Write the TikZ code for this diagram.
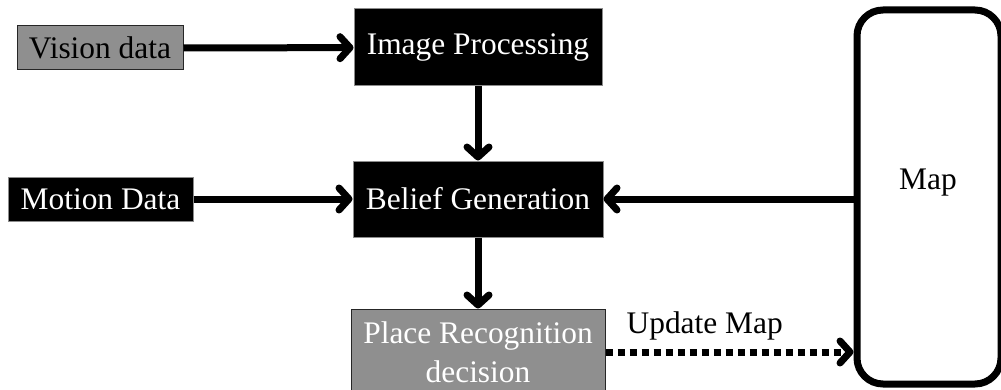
\documentclass[tikz,border=0pt]{standalone}
\usepackage{fontspec}
\setmainfont{Liberation Serif}
\usetikzlibrary{arrows.meta}
\definecolor{boxgrey}{HTML}{8F8F8F}

\begin{document}
\begin{tikzpicture}[x=0.5pt,y=-0.5pt,
		every node/.style={font=\fontsize{15.7}{19.5}\selectfont,inner sep=0pt},
		darkbox/.style={fill=black,draw=black!45,line width=0.5pt,text=white},
		greybox/.style={fill=boxgrey,draw=black!85,line width=0.5pt},
		flow/.style={line width=3.5pt,-{Straight Barb[length=5pt,width=11pt,round]}}]
	\useasboundingbox (0,0) rectangle (1001,390);
	
	\node[greybox,minimum width=83pt,minimum height=22pt] (vision) at (100,48) {Vision data};
	\node[darkbox,minimum width=124pt,minimum height=38.5pt] (improc) at (478,47.5) {Image Processing};
	\node[darkbox,minimum width=92.5pt,minimum height=22pt] (motion) at (100.5,199) {Motion Data};
	\node[darkbox,minimum width=125pt,minimum height=38pt] (belief) at (478,199) {Belief Generation};
	\node[greybox,text=white,align=center,minimum width=127pt,minimum height=43pt] (place) at (478,352) {Place Recognition\\decision};
	\node[draw,line width=3.5pt,rounded corners=13pt,minimum width=72pt,minimum height=187pt,
		label={[xshift=-0.5pt,yshift=7pt]center:Map}] (map) at (929,197) {};
	
	\draw[flow] (vision) -- (improc);
	\draw[flow] (improc) -- (belief);
	\draw[flow] (motion) -- (belief);
	\draw[flow] (map.west |- belief.east) -- (belief.east);
	\draw[flow] (belief) -- (place);
	\draw[flow,dash pattern=on 3.5pt off 2.5pt] (place.east) -- (map.west |- place.east)
		node[pos=0.4,above=4pt] {Update Map};
\end{tikzpicture}
\end{document}
